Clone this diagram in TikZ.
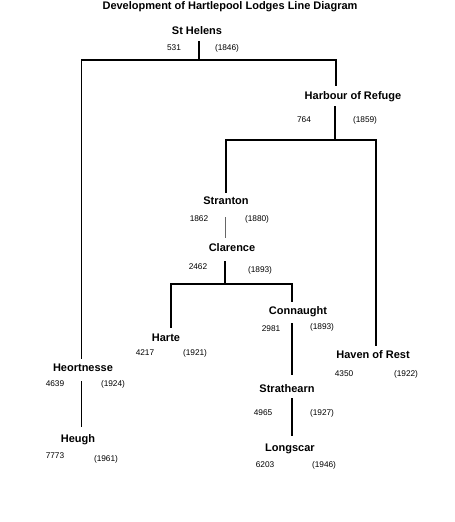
\documentclass[tikz,border=0pt]{standalone}
\usepackage{fontspec}
\setmainfont{Liberation Sans}
\begin{document}
\begin{tikzpicture}[x=1pt,y=-1pt,
  lname/.style={font=\fontsize{11}{12}\selectfont\bfseries, inner sep=0pt},
  num/.style={font=\fontsize{8.3}{9}\selectfont, inner sep=0pt},
  tree/.style={line width=1.4pt, black},
  thinline/.style={line width=0.9pt, black!60}]
\useasboundingbox (0,0) rectangle (455,522);
% title
\node[lname] (title) at (230,6.5) {Development of Hartlepool Lodges Line Diagram};
% lodges
\node[lname] (sth) at (197,31) {St Helens};
\node[num] (n531) at (174,48) {531};
\node[num] (y1846) at (227,48) {(1846)};
\node[lname] (harb) at (353,97) {Harbour of Refuge};
\node[num] (n764) at (304,120) {764};
\node[num] (y1859) at (365,120) {(1859)};
\node[lname] (str) at (226,201) {Stranton};
\node[num] (n1862) at (199,219) {1862};
\node[num] (y1880) at (257,219) {(1880)};
\node[lname] (cla) at (232,248) {Clarence};
\node[num] (n2462) at (198,267) {2462};
\node[num] (y1893a) at (260,270) {(1893)};
\node[lname] (con) at (298,312) {Connaught};
\node[num] (n2981) at (271,329) {2981};
\node[num] (y1893b) at (322,327) {(1893)};
\node[lname] (har) at (166,338) {Harte};
\node[num] (n4217) at (145,353) {4217};
\node[num] (y1921) at (195,353) {(1921)};
\node[lname] (hav) at (373,355) {Haven of Rest};
\node[num] (n4350) at (344,374) {4350};
\node[num] (y1922) at (406,374) {(1922)};
\node[lname] (heo) at (83,368) {Heortnesse};
\node[num] (n4639) at (55,384) {4639};
\node[num] (y1924) at (113,384) {(1924)};
\node[lname] (stt) at (287,389) {Strathearn};
\node[num] (n4965) at (263,413) {4965};
\node[num] (y1927) at (322,413) {(1927)};
\node[lname] (heu) at (78,440) {Heugh};
\node[num] (n7773) at (55,456) {7773};
\node[num] (y1961) at (106,459) {(1961)};
\node[lname] (lon) at (290,449) {Longscar};
\node[num] (n6203) at (265,465) {6203};
\node[num] (y1946) at (324,465) {(1946)};
% junctions
\coordinate (j1) at (199,60);
\coordinate (j1l) at (81.5,60);
\coordinate (j1r) at (336,60);
\coordinate (j2) at (335,140);
\coordinate (j2l) at (226,140);
\coordinate (j2r) at (376,140);
\coordinate (j3) at (225,284);
\coordinate (j3l) at (171,284);
\coordinate (j3r) at (292,284);
% connectors
\draw[tree] ([xshift=2pt,yshift=-6pt]sth.south) -- (j1);
\draw[tree] ([xshift=-1.5pt,yshift=5pt]heo.north) -- (j1l) -- (j1r) -- ([xshift=-17pt,yshift=6pt]harb.north);
\draw[tree] ([xshift=-18pt,yshift=-4pt]harb.south) -- (j2);
\draw[tree] ([yshift=4pt]str.north) -- (j2l) -- (j2r) -- ([xshift=3pt,yshift=5pt]hav.north);
\draw[thinline] ([xshift=-1pt,yshift=-12pt]str.south) -- ([xshift=-7pt,yshift=6pt]cla.north);
\draw[tree] ([xshift=-7pt,yshift=-9pt]cla.south) -- (j3);
\draw[tree] ([xshift=5pt,yshift=6pt]har.north) -- (j3l) -- (j3r) -- ([xshift=-6pt,yshift=5pt]con.north);
\draw[tree] ([xshift=-6pt,yshift=-6pt]con.south) -- ([xshift=5pt,yshift=10pt]stt.north);
\draw[tree] ([xshift=5pt,yshift=-5pt]stt.south) -- ([xshift=2pt,yshift=8pt]lon.north);
\draw[tree] ([xshift=-1.5pt,yshift=-9pt]heo.south) -- ([xshift=3.5pt,yshift=8pt]heu.north);
\end{tikzpicture}
\end{document}
